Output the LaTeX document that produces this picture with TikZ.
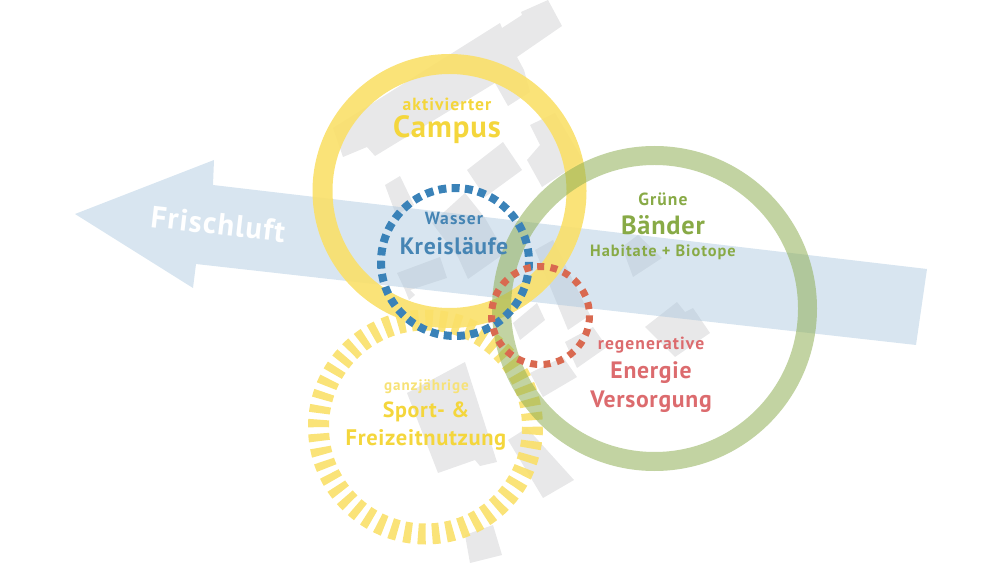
\documentclass[tikz,border=0pt]{standalone}
\usepackage{fontspec}
\setmainfont{PT Sans}
\usepackage{xcolor}
\usetikzlibrary{positioning}
\definecolor{ringyellow}{RGB}{250,224,105}
\definecolor{ringgreen}{RGB}{143,175,85}
\definecolor{dotblue}{RGB}{58,130,184}
\definecolor{dotred}{RGB}{217,105,80}
\definecolor{airblue}{RGB}{169,198,222}
\definecolor{housegrey}{RGB}{232,232,233}
\definecolor{textyellow}{RGB}{244,214,60}
\definecolor{textblue}{RGB}{70,133,180}
\definecolor{textgreen}{RGB}{136,170,70}
\definecolor{textred}{RGB}{220,107,110}
\newcommand{\labelfont}[2]{\fontsize{#1}{#1}\selectfont\bfseries\addfontfeature{LetterSpace=#2}}
\tikzset{
    house/.style={fill=housegrey},
    smalltext/.style={font=\labelfont{10}{6}},
    bigtext/.style={font=\labelfont{13.5}{3}},
}
\begin{document}
\begin{tikzpicture}[x=0.02cm,y=-0.02cm]
    \useasboundingbox (0,0) rectangle (1000,567);

    % Buildings
    \fill[house] (333,128) -- (500,23) -- (502,28) -- (522,15) -- (521,12) -- (548,0) -- (562,26) -- (517,57) -- (524,70) -- (530,92) -- (508,106) -- (495,83) -- (375,156) -- (367,147) -- (343,157) -- cycle;
    \fill[house] (467,170) -- (503,142) -- (522,170) -- (485,197) -- cycle;
    \fill[house] (530,125) -- (555,113) -- (583,160) -- (542,187) -- (527,160) -- (540,145) -- cycle;
    \fill[house] (385,185) -- (400,176) -- (414,205) -- (396,215) -- cycle;
    \fill[house] (432,223) -- (465,193) -- (485,218) -- (505,253) -- (468,279) -- (458,257) -- cycle;
    \fill[house] (397,273) -- (440,257) -- (447,278) -- (410,290) -- (415,295) -- (409,300) -- (405,290) -- cycle;
    \fill[house] (513,323) -- (537,303) -- (545,320) -- (520,340) -- cycle;
    \fill[house] (535,250) -- (553,240) -- (590,315) -- (568,330) -- cycle;
    \fill[house] (530,373) -- (563,357) -- (577,377) -- (543,397) -- cycle;
    \fill[house] (407,393) -- (465,362) -- (497,462) -- (480,466) -- (475,460) -- (438,473) -- cycle;
    \fill[house] (508,440) -- (527,428) -- (574,480) -- (543,498) -- cycle;
    \fill[house] (465,535) -- (493,525) -- (502,555) -- (470,563) -- cycle;
    \fill[house] (622,247) -- (638,235) -- (662,258) -- (633,277) -- cycle;
    \fill[house] (645,327) -- (677,302) -- (685,312) -- (693,308) -- (710,333) -- (675,357) -- cycle;
    \fill[house] (565,342) -- (593,327) -- (607,347) -- (577,368) -- cycle;

    % Frischluft arrow
    \fill[airblue,opacity=0.45] (75,214) -- (214,160) -- (213,185) -- (927,269) -- (916,345) -- (196,264) -- (193,288) -- cycle;
    \node[white,font=\labelfont{17.5}{4},rotate=-6.5] (frischluft) at (218,224) {Frischluft};

    % Rings
    \draw[ringyellow,opacity=0.9,line width=0.40cm] (449.5,191) circle [radius=127];
    \draw[ringyellow,opacity=0.9,line width=0.42cm,dash pattern=on 0.15cm off 0.1301cm] (425.5,427) circle [radius=107];
    \draw[ringgreen,opacity=0.55,line width=0.38cm] (654.5,308.5) circle [radius=153];
    \draw[dotblue,line width=0.16cm,dash pattern=on 0.16cm off 0.1057cm] (455,262) circle [radius=74];
    \draw[dotred,line width=0.14cm,dash pattern=on 0.14cm off 0.1277cm] (540.5,315.5) circle [radius=49];

    % Labels
    \node[smalltext,textyellow] (aktivierter) at (447,104) {aktivierter};
    \node[font=\labelfont{17.5}{3},textyellow] (campus) at (447,129.5) {Campus};
    \node[smalltext,textblue] (wasser) at (454,218) {Wasser};
    \node[bigtext,textblue] (kreislaeufe) at (454,246) {Kreisläufe};
    \node[smalltext,textgreen] (gruene) at (663,199) {Grüne};
    \node[font=\labelfont{15}{3},textgreen] (baender) at (663,225.5) {Bänder};
    \node[font=\labelfont{9.3}{6},textgreen] (habitate) at (663,252.5) {Habitate + Biotope};
    \node[smalltext,textred] (regenerative) at (651,345) {regenerative};
    \node[bigtext,textred] (energie) at (651,372.5) {Energie};
    \node[bigtext,textred] (versorgung) at (651,401.5) {Versorgung};
    \node[font=\labelfont{8.6}{6},textyellow!70] (ganzjaehrige) at (426.5,387) {ganzjährige};
    \node[font=\labelfont{12.5}{3},textyellow] (sport) at (426,412) {Sport- \&};
    \node[font=\labelfont{12.8}{3},textyellow] (freizeit) at (426,440) {Freizeitnutzung};
\end{tikzpicture}
\end{document}
